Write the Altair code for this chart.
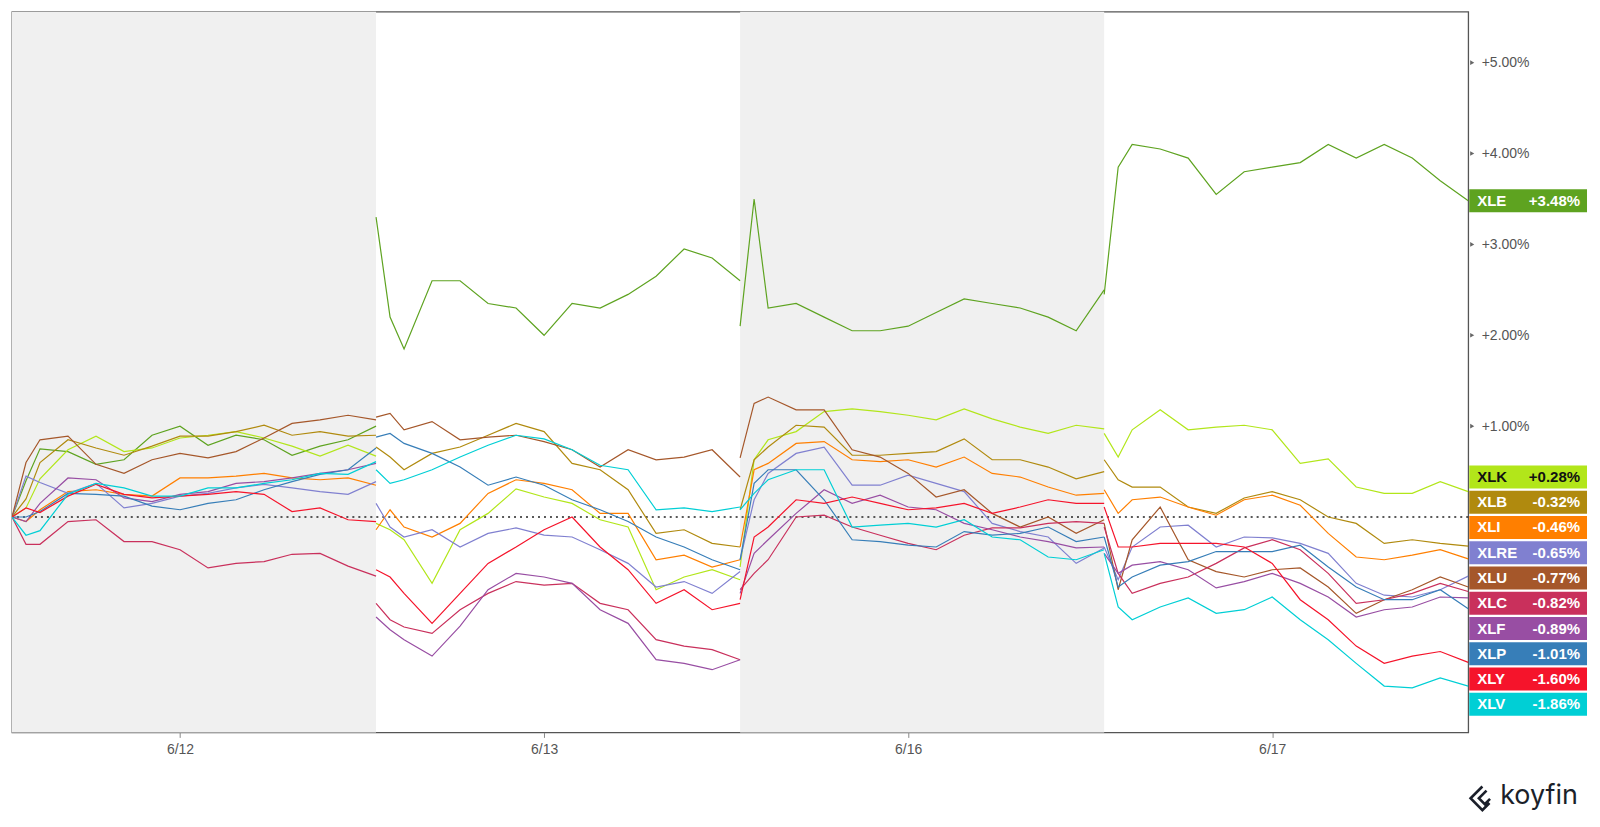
import altair as alt
import pandas as pd

# ---------------- data ----------------
TICKERS = ["XLE", "XLK", "XLB", "XLI", "XLRE", "XLU", "XLC", "XLF", "XLP", "XLY", "XLV"]
COLORS = ["#5ea320", "#b2e61a", "#b08a0e", "#ff7f00", "#8080d0", "#a5572a",
          "#c9305c", "#984ea3", "#377eb8", "#f5142b", "#00cfd5"]
DAYS = ["6/12", "6/13", "6/16", "6/17"]
HOURS = [0, 0.25, 0.5, 1, 1.5, 2, 2.5, 3, 3.5, 4, 4.5, 5, 5.5, 6, 6.5]
SESSION = 6.5
TICK_HOUR = 3.0
Y_TICKS = [1, 2, 3, 4, 5]

XLE = [0, 0.40, 0.75, 0.72, 0.58, 0.63, 0.90, 1.00, 0.79, 0.90, 0.85, 0.68, 0.78, 0.85, 1.00,
       3.30, 2.20, 1.85, 2.60, 2.60, 2.35, 2.30, 2.00, 2.35, 2.30, 2.45, 2.65, 2.95, 2.85, 2.60,
       2.10, 3.50, 2.30, 2.35, 2.20, 2.05, 2.05, 2.10, 2.25, 2.40, 2.35, 2.30, 2.20, 2.05, 2.50,
       2.45, 3.85, 4.10, 4.05, 3.95, 3.55, 3.80, 3.85, 3.90, 4.10, 3.95, 4.10, 3.95, 3.70, 3.48]
XLK = [0, 0.10, 0.42, 0.74, 0.89, 0.72, 0.76, 0.87, 0.90, 0.94, 0.87, 0.78, 0.67, 0.79, 0.67,
       -0.07, -0.14, -0.25, -0.73, -0.14, 0.04, 0.31, 0.22, 0.15, -0.03, -0.11, -0.80, -0.66, -0.58, -0.69,
       -0.55, 0.63, 0.85, 0.94, 1.16, 1.19, 1.16, 1.12, 1.07, 1.19, 1.08, 0.99, 0.92, 1.01, 0.97,
       0.92, 0.66, 0.96, 1.18, 0.96, 0.99, 1.01, 0.96, 0.59, 0.64, 0.33, 0.26, 0.26, 0.39, 0.28]
XLB = [0, 0.20, 0.60, 0.85, 0.76, 0.68, 0.78, 0.89, 0.89, 0.94, 1.01, 0.90, 0.94, 0.89, 0.90,
       0.77, 0.66, 0.52, 0.70, 0.77, 0.90, 1.03, 0.94, 0.59, 0.52, 0.30, -0.18, -0.14, -0.29, -0.33,
       0.08, 0.63, 0.77, 1.01, 0.99, 0.68, 0.68, 0.70, 0.72, 0.86, 0.63, 0.63, 0.55, 0.42, 0.50,
       0.63, 0.41, 0.33, 0.33, 0.11, 0.04, 0.21, 0.28, 0.19, 0.00, -0.07, -0.29, -0.25, -0.29, -0.32]
XLI = [0, -0.05, 0.08, 0.28, 0.30, 0.25, 0.23, 0.43, 0.43, 0.45, 0.48, 0.43, 0.41, 0.43, 0.35,
       -0.14, 0.08, -0.11, -0.22, -0.07, 0.26, 0.41, 0.37, 0.30, 0.04, 0.04, -0.47, -0.42, -0.55, -0.47,
       -0.33, 0.52, 0.59, 0.81, 0.83, 0.63, 0.61, 0.63, 0.55, 0.66, 0.48, 0.44, 0.33, 0.24, 0.26,
       0.30, 0.04, 0.19, 0.22, 0.11, 0.02, 0.19, 0.24, 0.13, -0.18, -0.44, -0.47, -0.42, -0.36, -0.46]
XLRE = [0, 0.45, 0.38, 0.26, 0.37, 0.10, 0.15, 0.23, 0.26, 0.32, 0.36, 0.32, 0.28, 0.25, 0.39,
        0.15, -0.11, -0.22, -0.14, -0.33, -0.18, -0.12, -0.20, -0.22, -0.36, -0.51, -0.77, -0.71, -0.84, -0.60,
        -0.47, 0.19, 0.48, 0.70, 0.77, 0.35, 0.35, 0.46, 0.37, 0.28, -0.07, -0.16, -0.22, -0.51, -0.34,
        -0.33, -0.69, -0.33, -0.11, -0.09, -0.33, -0.22, -0.23, -0.29, -0.40, -0.73, -0.86, -0.88, -0.80, -0.65]
XLU = [0, 0.60, 0.85, 0.89, 0.58, 0.48, 0.63, 0.70, 0.65, 0.72, 0.87, 1.03, 1.07, 1.12, 1.07,
       1.10, 1.14, 0.96, 1.05, 0.85, 0.88, 0.90, 0.83, 0.74, 0.55, 0.74, 0.63, 0.66, 0.74, 0.44,
       0.65, 1.25, 1.32, 1.18, 1.18, 0.74, 0.66, 0.48, 0.22, 0.30, 0.04, -0.11, 0.00, -0.18, -0.03,
       -0.07, -0.80, -0.25, 0.11, -0.47, -0.60, -0.66, -0.58, -0.56, -0.77, -1.06, -0.91, -0.80, -0.66, -0.77]
XLC = [0, -0.30, -0.30, -0.05, -0.03, -0.27, -0.27, -0.36, -0.56, -0.51, -0.49, -0.41, -0.40, -0.54, -0.65,
       -0.95, -1.13, -1.21, -1.28, -1.02, -0.84, -0.71, -0.75, -0.73, -0.95, -1.02, -1.35, -1.42, -1.46, -1.57,
       -0.80, -0.62, -0.47, 0.00, 0.02, -0.11, -0.20, -0.29, -0.36, -0.20, -0.12, -0.12, -0.07, -0.05, -0.07,
       -0.11, -0.62, -0.84, -0.73, -0.66, -0.51, -0.34, -0.25, -0.36, -0.62, -0.95, -0.91, -0.84, -0.73, -0.82]
XLF = [0, -0.05, 0.15, 0.43, 0.41, 0.21, 0.17, 0.25, 0.28, 0.37, 0.39, 0.43, 0.48, 0.52, 0.59,
       -1.10, -1.24, -1.35, -1.53, -1.20, -0.80, -0.62, -0.66, -0.73, -1.02, -1.17, -1.57, -1.61, -1.68, -1.57,
       -0.84, -0.40, -0.25, 0.04, 0.30, 0.15, 0.24, 0.11, 0.08, -0.07, -0.14, -0.22, -0.27, -0.34, -0.33,
       -0.40, -0.62, -0.53, -0.49, -0.58, -0.78, -0.71, -0.62, -0.73, -0.88, -1.10, -1.02, -0.99, -0.88, -0.89]
XLP = [0, 0.00, 0.06, 0.26, 0.25, 0.23, 0.12, 0.08, 0.15, 0.19, 0.30, 0.39, 0.47, 0.52, 0.76,
       0.88, 0.92, 0.81, 0.70, 0.55, 0.35, 0.44, 0.35, 0.19, 0.08, -0.05, -0.22, -0.33, -0.47, -0.58,
       -0.47, 0.37, 0.52, 0.52, 0.19, -0.25, -0.27, -0.31, -0.33, -0.16, -0.20, -0.18, -0.11, -0.27, -0.22,
       -0.22, -0.77, -0.66, -0.53, -0.49, -0.38, -0.38, -0.38, -0.31, -0.55, -0.77, -0.91, -0.91, -0.80, -1.01]
XLY = [0, 0.10, 0.05, 0.23, 0.36, 0.25, 0.21, 0.23, 0.25, 0.28, 0.25, 0.06, 0.10, -0.03, -0.05,
       -0.58, -0.66, -0.84, -1.17, -0.84, -0.51, -0.33, -0.14, 0.00, -0.33, -0.58, -0.95, -0.80, -1.02, -0.95,
       -0.91, -0.22, -0.11, 0.19, 0.15, 0.22, 0.15, 0.08, 0.10, 0.15, 0.04, 0.11, 0.19, 0.15, 0.15,
       0.11, -0.33, -0.33, -0.29, -0.29, -0.29, -0.33, -0.51, -0.91, -1.13, -1.42, -1.61, -1.53, -1.48, -1.60]
XLV = [0, -0.20, -0.15, 0.25, 0.37, 0.32, 0.23, 0.23, 0.32, 0.32, 0.37, 0.41, 0.48, 0.47, 0.61,
       0.52, 0.37, 0.41, 0.52, 0.66, 0.79, 0.90, 0.86, 0.74, 0.57, 0.52, 0.08, 0.10, 0.06, 0.11,
       0.08, 0.26, 0.41, 0.52, 0.52, -0.11, -0.09, -0.07, -0.11, -0.03, -0.22, -0.25, -0.44, -0.47, -0.36,
       -0.40, -0.99, -1.13, -0.99, -0.89, -1.06, -1.02, -0.88, -1.13, -1.35, -1.61, -1.86, -1.88, -1.77, -1.86]

SERIES = {"XLE": XLE, "XLK": XLK, "XLB": XLB, "XLI": XLI, "XLRE": XLRE, "XLU": XLU,
          "XLC": XLC, "XLF": XLF, "XLP": XLP, "XLY": XLY, "XLV": XLV}
FINAL = [3.48, 0.28, -0.32, -0.46, -0.65, -0.77, -0.82, -0.89, -1.01, -1.60, -1.86]

# ---------------- layout ----------------
W, H = 1459, 722
Y_MIN, Y_MAX = -2.37, 5.56
PX_PER_UNIT = H / (Y_MAX - Y_MIN)
BOX_H = 23.0
GAP = 25.3 / PX_PER_UNIT
FONT = "Liberation Sans"

rows = []
n = len(HOURS)
for t in TICKERS:
    vals = SERIES[t]
    for d in range(len(DAYS)):
        for i, h in enumerate(HOURS):
            rows.append({"ticker": t, "day": d, "x": d * SESSION + h, "v": vals[d * n + i]})
df = pd.DataFrame(rows)

bands = pd.DataFrame({"x": [d * SESSION for d in (0, 2)],
                      "x1": [(d + 1) * SESSION for d in (0, 2)]})

# end-label de-overlap: merge overlapping labels into evenly spaced clusters
items = sorted(zip(FINAL, TICKERS), reverse=True)
clusters = [[it] for it in items]
def centre(c):
    return sum(v for v, _ in c) / len(c)
merged = True
while merged:
    merged = False
    for i in range(len(clusters) - 1):
        a, b = clusters[i], clusters[i + 1]
        a_bottom = centre(a) - (len(a) - 1) / 2 * GAP
        b_top = centre(b) + (len(b) - 1) / 2 * GAP
        if a_bottom - b_top < GAP:
            clusters[i] = a + b
            del clusters[i + 1]
            merged = True
            break
lab_rows = []
for c in clusters:
    m = centre(c)
    k = len(c)
    for j, (v, t) in enumerate(c):
        pos = m + ((k - 1) / 2 - j) * GAP
        half = BOX_H / 2 / PX_PER_UNIT
        lab_rows.append({"ticker": t, "v": pos, "top": pos + half, "bot": pos - half,
                         "val": ("+" if v >= 0 else "") + f"{v:.2f}%",
                         "tc": "#111111" if t == "XLK" else "#ffffff"})
labels = pd.DataFrame(lab_rows)

xs = alt.Scale(domain=[0, SESSION * len(DAYS)], nice=False, zero=False)
ys = alt.Scale(domain=[Y_MIN, Y_MAX], nice=False, zero=False)
color = alt.Color("ticker:N", scale=alt.Scale(domain=TICKERS, range=COLORS), legend=None)

label_expr = " : ".join(
    f"datum.value < {(d + 1) * SESSION} ? '{DAYS[d]}'" for d in range(len(DAYS) - 1)
) + f" : '{DAYS[-1]}'"

x_axis = alt.Axis(values=[d * SESSION + TICK_HOUR for d in range(len(DAYS))],
                  labelExpr=label_expr, title=None, grid=False, domain=False,
                  tickSize=5, tickColor="#888888", labelFontSize=14, labelColor="#555555",
                  labelFont=FONT, labelPadding=5)
y_axis = alt.Axis(orient="right", values=Y_TICKS, title=None, grid=False, domain=False,
                  ticks=False, labelExpr="'+' + format(datum.value, '.2f') + '%'",
                  labelFontSize=14, labelColor="#555555", labelFont=FONT, labelPadding=13)

X = lambda f: alt.X(f, scale=xs, axis=x_axis)
Y = lambda f: alt.Y(f, scale=ys, axis=y_axis)

band_layer = alt.Chart(bands).mark_rect(color="#f0f0f0").encode(
    x=X("x:Q"), x2="x1:Q", y=alt.value(0), y2=alt.value(H))

zero_layer = alt.Chart(pd.DataFrame({"v": [0]})).mark_rule(
    strokeDash=[2, 4], color="#222222", strokeWidth=1.4).encode(y=Y("v:Q"))

line_layer = alt.Chart(df).mark_line(strokeWidth=1.2, clip=True).encode(
    x=X("x:Q"), y=Y("v:Q"), color=color, detail="day:N")

tri_layer = alt.Chart(pd.DataFrame({"v": Y_TICKS})).mark_point(
    shape="triangle-right", filled=True, size=22, color="#666666", opacity=1).encode(
    x=alt.value(W + 4), y=Y("v:Q"))

box_layer = alt.Chart(labels).mark_rect().encode(
    x=alt.value(W + 1), x2=alt.value(W + 119),
    y=Y("top:Q"), y2="bot:Q", color=color)

tick_text = alt.Chart(labels).mark_text(
    align="left", baseline="middle", fontSize=15, fontWeight="bold", font=FONT).encode(
    x=alt.value(W + 9), y=Y("v:Q"), text="ticker:N",
    color=alt.Color("tc:N", scale=None))

val_text = alt.Chart(labels).mark_text(
    align="right", baseline="middle", fontSize=15, fontWeight="bold", font=FONT).encode(
    x=alt.value(W + 112), y=Y("v:Q"), text="val:N",
    color=alt.Color("tc:N", scale=None))

logo_icon = alt.Chart(pd.DataFrame({"k": [1]})).mark_point(
    shape="M0.1,-1 L-0.9,0 L0.1,1 L0.7,0.4 M0.45,-0.65 L-0.2,0 L0.3,0.5 L0.75,0.05",
    filled=False, strokeWidth=2.6, size=560, color="#1b1f2a", opacity=1).encode(
    x=alt.value(W + 13), y=alt.value(H + 66))

logo_text = alt.Chart(pd.DataFrame({"k": ["koyfin"]})).mark_text(
    align="left", baseline="middle", fontSize=27, font="Inter", color="#1b1f2a").encode(
    x=alt.value(W + 32), y=alt.value(H + 64), text="k:N")

chart = alt.layer(
    band_layer, zero_layer, line_layer, tri_layer, box_layer, tick_text, val_text,
    logo_icon, logo_text
).properties(
    width=W, height=H,
    padding={"left": 3, "top": 3, "right": 5, "bottom": 5},
    background="#ffffff"
).configure_view(stroke="#555555", strokeWidth=1.3)

chart.save("out.html", embed_options={"renderer": "svg", "actions": False})
